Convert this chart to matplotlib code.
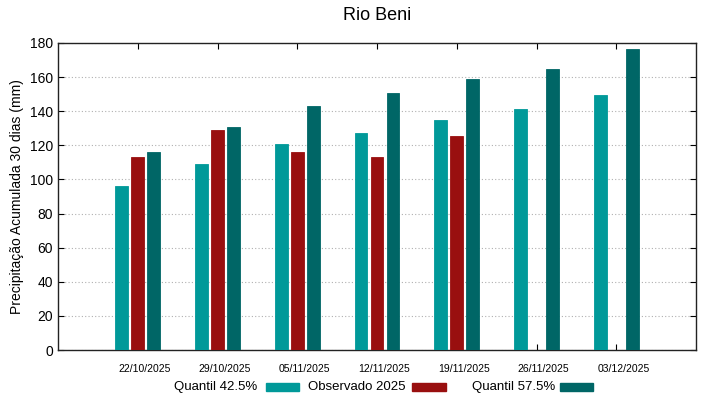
import matplotlib
matplotlib.use("Agg")
import matplotlib.pyplot as plt
from matplotlib.patches import Rectangle
import numpy as np

plt.rcParams['font.family'] = ['Liberation Sans', 'DejaVu Sans']

dates = ["22/10/2025", "29/10/2025", "05/11/2025", "12/11/2025",
         "19/11/2025", "26/11/2025", "03/12/2025"]
q425 = [96.2, 109.2, 120.6, 127.4, 134.9, 141.1, 149.3]
obs2025 = [113.3, 129.0, 116.3, 113.0, 125.3, np.nan, np.nan]
q575 = [115.9, 130.7, 142.9, 150.9, 158.9, 164.9, 176.5]
series_names = ["Quantil 42.5%", "Observado 2025", "Quantil 57.5%"]
colors = ["#009999", "#990f0f", "#006666"]
yticks = [0, 20, 40, 60, 80, 100, 120, 140, 160, 180]

fig = plt.figure(figsize=(7.19, 3.99), dpi=100)
ax = fig.add_axes([58/719, 1-350/399, (696-58)/719, (350-43)/399])

x = np.arange(1, len(dates)+1)
w = 0.16
for off, vals, c in zip([-0.2, 0, 0.2], [q425, obs2025, q575], colors):
    ax.bar(x+off, vals, width=w, color=c, edgecolor=c, linewidth=0.6, zorder=3)

ax.set_xlim(0, 8)
ax.set_ylim(0, 180)
ax.set_yticks(yticks)
ax.set_xticks(x)
ax.set_xticklabels([])
ax.set_xticks(x + 0.09, minor=True)
ax.set_xticklabels(dates, minor=True, fontsize=7.5)
ax.tick_params(axis='x', which='major', direction='in', top=True, bottom=True, length=4, width=0.8)
ax.tick_params(axis='x', which='minor', length=0, pad=10)
ax.tick_params(axis='y', which='both', direction='in', left=True, right=True, length=4, labelsize=10, width=0.8)
ax.yaxis.grid(True, linestyle=(0, (1, 2)), color='#b0b0b0', linewidth=0.8, zorder=0)
for s in ax.spines.values():
    s.set_linewidth(1.0)
    s.set_color('#222222')

ax.set_ylabel("Precipitação Acumulada 30 dias (mm)", fontsize=10, labelpad=4)
fig.text(377/719, 1-16/399, "Rio Beni", ha='center', va='center', fontsize=13)

# legend (gnuplot style: text then sample)
leg_y = 1-387/399
items = [(257, 266, 299), (406, 412, 446), (555, 560, 593)]
for name, c, (tx, x0, x1) in zip(series_names, colors, items):
    fig.text(tx/719, leg_y, name, ha='right', va='center', fontsize=9.5)
    fig.patches.append(Rectangle((x0/719, leg_y-4/399), (x1-x0)/719, 8/399,
                                 transform=fig.transFigure, color=c, figure=fig))

fig.savefig("out.png", dpi=100)
